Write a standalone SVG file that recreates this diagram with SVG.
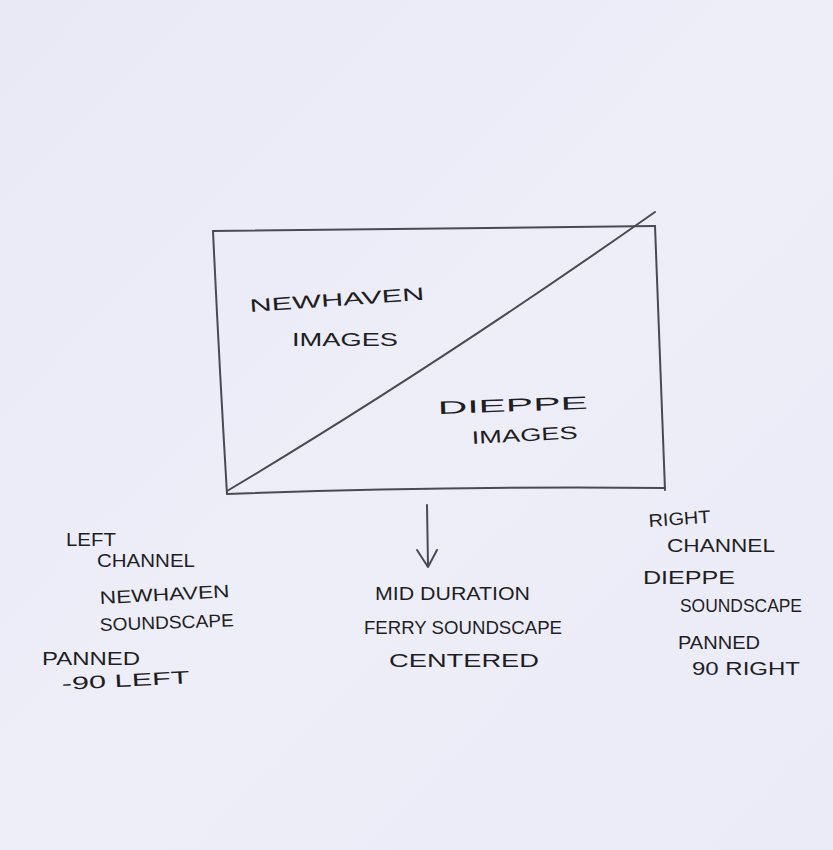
<svg xmlns="http://www.w3.org/2000/svg" width="833" height="850" viewBox="0 0 833 850">
<style>
.pen{fill:none;stroke:#4a4a52;stroke-width:2;stroke-linecap:round;stroke-linejoin:round}
.t{font-family:"Liberation Sans",Arial,sans-serif;font-size:18px;fill:#1e1e24}
</style>
<defs>
<linearGradient id="paper" x1="0" y1="0" x2="1" y2="1">
<stop offset="0" stop-color="#e9e9f6"/>
<stop offset="0.5" stop-color="#eeeef9"/>
<stop offset="1" stop-color="#ebebf7"/>
</linearGradient>
</defs>
<rect x="0" y="0" width="833" height="850" fill="url(#paper)"/>
<g id="screen">
<path class="pen" d="M213,231 Q430,228 655,226"/>
<path class="pen" d="M655,226 Q660,360 665,490"/>
<path class="pen" d="M665,488 Q440,486 227,494"/>
<path class="pen" d="M213,231 Q219,360 227,494"/>
<path class="pen" d="M227,491 Q430,370 655,212"/>
<text class="t" x="250" y="312" font-size="21" textLength="175" lengthAdjust="spacingAndGlyphs" transform="rotate(-4 250 312)">NEWHAVEN</text>
<text class="t" x="292" y="346" font-size="21" textLength="106" lengthAdjust="spacingAndGlyphs">IMAGES</text>
<text class="t" x="438" y="414" font-size="27" textLength="150" lengthAdjust="spacingAndGlyphs" transform="rotate(-2 438 414)">DIEPPE</text>
<text class="t" x="472" y="444" font-size="21" textLength="106" lengthAdjust="spacingAndGlyphs" transform="rotate(-3 472 444)">IMAGES</text>
</g>
<g id="connectors">
<path class="pen" d="M427,505 L428,566"/>
<path class="pen" d="M417,550 L428,567 L437,550"/>
</g>
<g id="left-channel">
<text class="t" x="66" y="546" textLength="50" lengthAdjust="spacingAndGlyphs">LEFT</text>
<text class="t" x="97" y="567" textLength="98" lengthAdjust="spacingAndGlyphs">CHANNEL</text>
<text class="t" x="100" y="604" textLength="130" lengthAdjust="spacingAndGlyphs" transform="rotate(-3 100 604)">NEWHAVEN</text>
<text class="t" x="100" y="631" textLength="134" lengthAdjust="spacingAndGlyphs" transform="rotate(-2 100 631)">SOUNDSCAPE</text>
<text class="t" x="42" y="665" textLength="98" lengthAdjust="spacingAndGlyphs">PANNED</text>
<text class="t" x="62" y="690" textLength="128" lengthAdjust="spacingAndGlyphs" transform="rotate(-3 62 690)">-90 LEFT</text>
</g>
<g id="center-channel">
<text class="t" x="375" y="600" textLength="155" lengthAdjust="spacingAndGlyphs">MID DURATION</text>
<text class="t" x="364" y="634" textLength="198" lengthAdjust="spacingAndGlyphs">FERRY SOUNDSCAPE</text>
<text class="t" x="389" y="667" font-size="20" textLength="150" lengthAdjust="spacingAndGlyphs">CENTERED</text>
</g>
<g id="right-channel">
<text class="t" x="649" y="527" textLength="62" lengthAdjust="spacingAndGlyphs" transform="rotate(-4 649 527)">RIGHT</text>
<text class="t" x="667" y="552" textLength="108" lengthAdjust="spacingAndGlyphs">CHANNEL</text>
<text class="t" x="643" y="584" textLength="92" lengthAdjust="spacingAndGlyphs">DIEPPE</text>
<text class="t" x="680" y="612" textLength="122" lengthAdjust="spacingAndGlyphs">SOUNDSCAPE</text>
<text class="t" x="678" y="649" textLength="82" lengthAdjust="spacingAndGlyphs">PANNED</text>
<text class="t" x="692" y="675" textLength="108" lengthAdjust="spacingAndGlyphs">90 RIGHT</text>
</g>
</svg>
